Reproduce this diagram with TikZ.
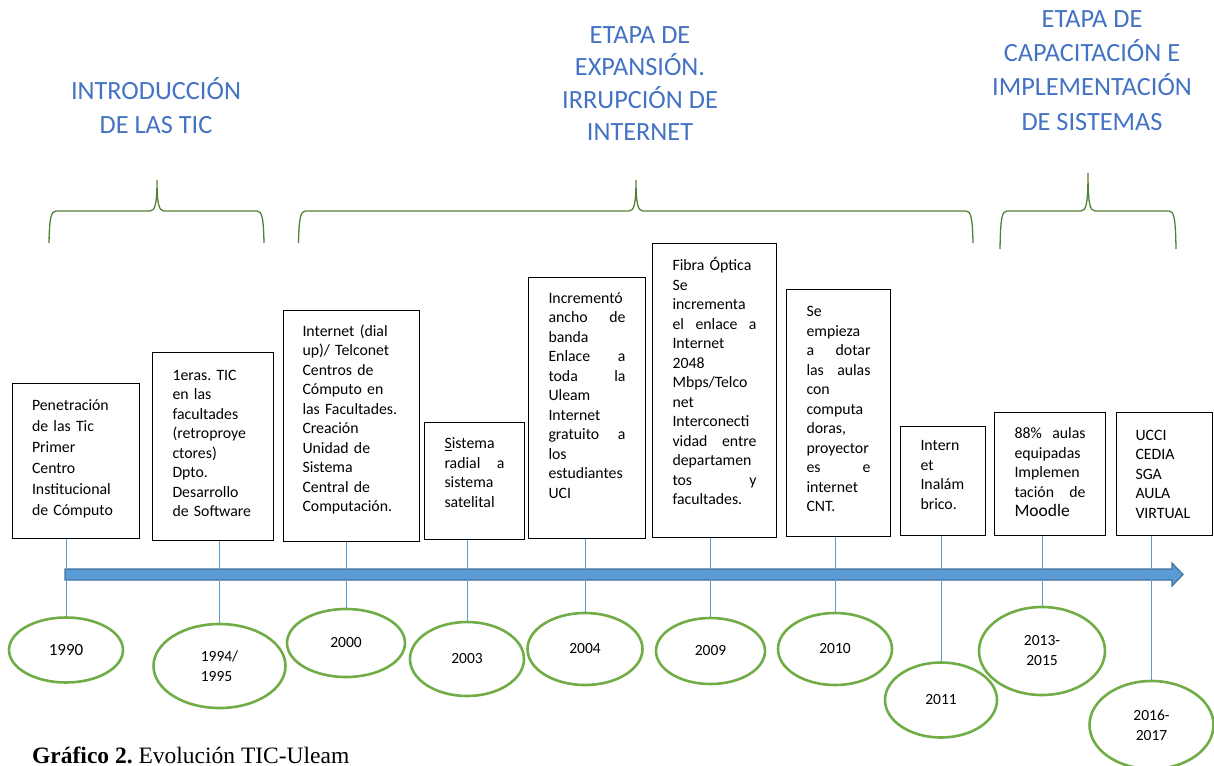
\documentclass[tikz,border=0pt]{standalone}
\usepackage{fontspec}
\setmainfont{Carlito}
\newfontfamily\capfont{Liberation Serif}
\usetikzlibrary{shapes.geometric,calc}
\definecolor{headblue}{HTML}{4472C4}
\definecolor{ellgreen}{HTML}{70AD47}
\definecolor{bracegreen}{HTML}{548235}
\definecolor{linkblue}{HTML}{5B9BD5}
\definecolor{arrowedge}{HTML}{41719C}
\newcommand\mybrace[5]{%
  \draw[bracest] (#1,#5) .. controls (#1+0.5,218) and (#1+2,211) .. (#1+7,211)
    -- (#2-7,211) .. controls (#2-2,211) and (#2,204) .. (#2,#4)
    .. controls (#2,204) and (#2+2,211) .. (#2+7,211)
    -- (#3-7,211) .. controls (#3-2,211) and (#3-0.5,218) .. (#3,#5);}
\newcommand\raiseby[1]{\par\vspace*{#1}\hrule height 0pt width 0pt\relax}
\frenchspacing
\begin{document}
\begin{tikzpicture}[x=1pt,y=-1pt,
  headst/.style={text=headblue, inner sep=0pt, align=center, anchor=north},
  evbox/.style={draw=black, line width=1pt, inner xsep=20pt, inner ysep=3pt,
    align=left, anchor=north west, font=\fontsize{15.8}{19.5}\selectfont\frenchspacing},
  yearst/.style={ellipse, draw=ellgreen, line width=2.6pt, inner sep=0pt,
    align=center, font=\fontsize{15.5}{20}\selectfont},
  bracest/.style={draw=bracegreen, line width=1.3pt},
  conn/.style={draw=linkblue, line width=1pt}]
\useasboundingbox (0,0) rectangle (1214,765);

% headings
\node[headst, font=\fontsize{26.3}{34}\selectfont] (h1) at (156,75.2)
  {\strut INTRODUCCIÓN\\DE LAS TIC};
\node[headst, font=\fontsize{26.3}{32.5}\selectfont] (h2) at (640,20.3)
  {\strut ETAPA DE\\EXPANSIÓN.\\IRRUPCIÓN DE\\INTERNET};
\node[headst, font=\fontsize{26.3}{34.4}\selectfont] (h3) at (1092,2.9)
  {\strut ETAPA DE\\CAPACITACIÓN E\\IMPLEMENTACIÓN\\DE SISTEMAS};

% braces
\mybrace{49}{157}{264}{180}{243}
\mybrace{298.5}{636}{973}{180}{243}
\mybrace{1000}{1088}{1176}{173}{249}

% event boxes
\node[evbox, font=\fontsize{15.8}{21}\selectfont\frenchspacing, text width=87pt, minimum height=155pt] (b1) at (11.5,383)
  {Penetración\\de las Tic\\Primer\\Centro\\Institucional\\de Cómputo\raiseby{4pt}};
\node[evbox, text width=81pt, minimum height=188pt] (b2) at (152,352)
  {1eras. TIC\\en las\\facultades\\(retroproye\\ctores)\\Dpto.\\Desarrollo\\de Software\raiseby{6pt}};
\node[evbox, inner xsep=19pt, text width=98pt, minimum height=231pt] (b3) at (283,310)
  {Internet (dial\\up)/ Telconet\\Centros de\\Cómputo en\\las Facultades.\\Creación\\Unidad de\\Sistema\\Central de\\Computación.\raiseby{13pt}};
\node[evbox, text width=60pt, minimum height=117pt] (b4) at (424,422)
  {\underline{S}istema\\radial\hfill a\\sistema\\satelital\raiseby{17pt}};
\node[evbox, text width=77pt, minimum height=261pt] (b5) at (528,277)
  {Incrementó\\ancho\hfill de\\banda\\Enlace\hfill a\\toda\hfill la\\Uleam\\Internet\\gratuito\hfill a\\los\\estudiantes\\UCI\raiseby{25pt}};
\node[evbox, text width=84pt, minimum height=294pt] (b6) at (652,243)
  {Fibra Óptica\\Se\\incrementa\\el\hfill enlace\hfill a\\Internet\\2048\\Mbps/Telco\\net\\Interconecti\\vidad\hfill entre\\departamen\\tos\hfill y\\facultades.\raiseby{19pt}};
\node[evbox, text width=64pt, minimum height=247pt] (b7) at (786,289)
  {Se\\empieza\\a\hfill dotar\\las\hfill aulas\\con\\computa\\doras,\\proyector\\es\hfill e\\internet\\CNT.\raiseby{8pt}};
\node[evbox, text width=45pt, minimum height=109pt] (b8) at (900,426)
  {Intern\\et\\Inalám\\brico.\raiseby{12pt}};
\node[evbox, text width=71pt, minimum height=123pt] (b9) at (994,412)
  {88\%\hfill aulas\\equipadas\\Implemen\\tación\hfill de\\{\fontsize{17.5}{19.5}\selectfont Moodle}\raiseby{3pt}};
\node[evbox, inner xsep=19pt, text width=58pt, minimum height=123pt] (b10) at (1116,412)
  {UCCI\\CEDIA\\SGA\\AULA\\VIRTUAL};

% timeline arrow
\fill[linkblue, draw=arrowedge, line width=1.2pt]
  (65,569) -- (1172,569) -- (1172,563) -- (1183,574.5) -- (1172,586)
  -- (1172,580) -- (65,580) -- cycle;

% year ellipses
\node[yearst, font=\fontsize{17}{20}\selectfont, minimum width=114pt, minimum height=65pt] (e1) at (66,650) {1990};
\node[yearst, align=left, minimum width=132pt, minimum height=84pt] (e2) at (219.5,666) {1994/\\1995};
\node[yearst, minimum width=118pt, minimum height=68pt] (e3) at (346,643) {2000};
\node[yearst, minimum width=114pt, minimum height=74pt] (e4) at (467,659) {2003};
\node[yearst, minimum width=115pt, minimum height=72pt] (e5) at (585,649) {2004};
\node[yearst, minimum width=109pt, minimum height=66pt] (e6) at (710.5,651) {2009};
\node[yearst, minimum width=114pt, minimum height=72pt] (e7) at (835,649) {2010};
\node[yearst, minimum width=112pt, minimum height=75pt] (e8) at (941,700) {2011};
\node[yearst, minimum width=126pt, minimum height=88pt] (e9) at (1042,651) {2013-\\2015};
\node[yearst, minimum width=124pt, minimum height=88pt] (e10) at (1151.5,725) {2016-\\2017};

% connectors
\foreach \i in {1,...,10}{
  \draw[conn] (e\i.north |- b\i.south) -- (e\i.north);
}

% caption
\node[anchor=base west, inner sep=0pt] (cap) at (32,763)
  {\capfont\fontsize{23.5}{27}\selectfont\textbf{Gráfico 2.} Evolución TIC-Uleam};
\end{tikzpicture}
\end{document}
